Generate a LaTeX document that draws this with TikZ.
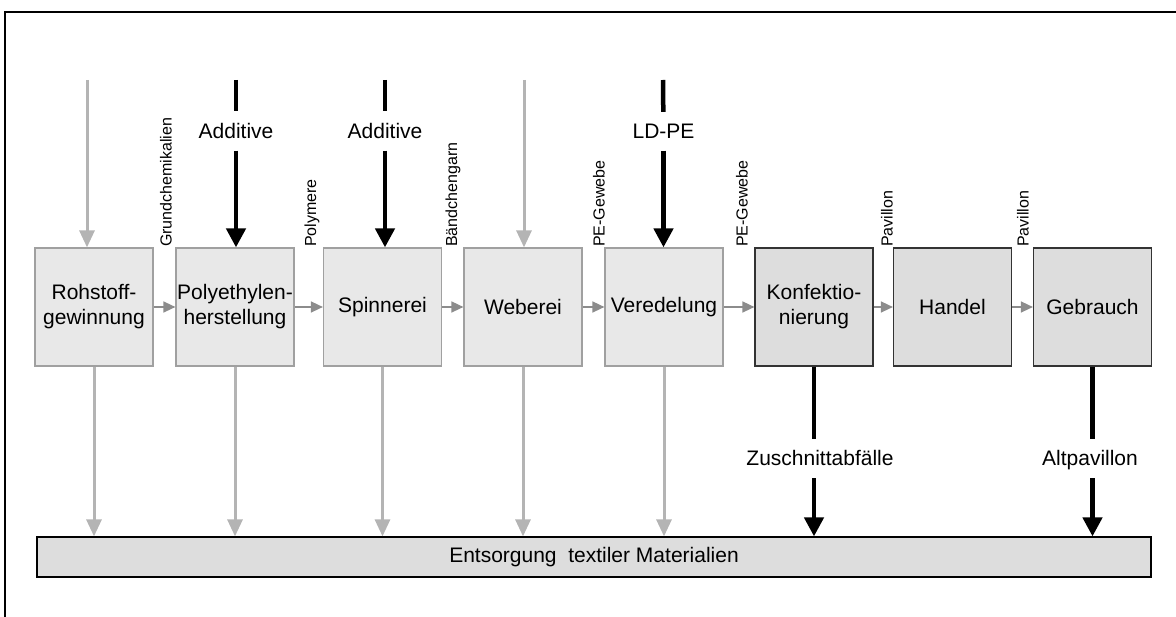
\documentclass[tikz,border=0pt]{standalone}
\usepackage{fontspec}
\setmainfont{Liberation Sans}
\usetikzlibrary{arrows.meta}
\definecolor{boxlight}{HTML}{E8E8E8}
\definecolor{boxdark}{HTML}{DDDDDD}
\definecolor{edgelight}{HTML}{A0A0A0}
\definecolor{edgedark}{HTML}{333333}
\definecolor{inflow}{HTML}{B4B4B4}
\definecolor{chain}{HTML}{8C8C8C}
\begin{document}
\begin{tikzpicture}[x=1pt,y=-1pt,
  stage/.style={minimum width=118pt, minimum height=118pt, inner sep=0pt,
    align=center, font=\fontsize{21}{25}\selectfont, line width=1.2pt},
  lightstage/.style={stage, draw=edgelight, fill=boxlight},
  darkstage/.style={stage, draw=edgedark, fill=boxdark},
  flowlabel/.style={rotate=90, anchor=west, inner sep=0pt,
    font=\fontsize{16}{19}\selectfont},
  sidelabel/.style={anchor=base, inner xsep=2pt, inner ysep=12pt,
    text depth=0pt, font=\fontsize{21}{25}\selectfont},
  chainarrow/.style={draw=chain, line width=1.5pt,
    -{Triangle[length=12pt,width=11pt]}},
  grayarrow/.style={draw=inflow, line width=3pt,
    -{Triangle[length=17pt,width=15pt]}},
  blackline/.style={draw=black, line width=4.5pt},
  blackarrow/.style={blackline, -{Triangle[length=19pt,width=19pt]}},
]
\useasboundingbox (0,0) rectangle (1176,617);

% frame
\draw[line width=1.6pt] (5,617) -- (5,12) -- (1176,12);

% process chain
\node[lightstage] (rohstoff) at (94,307)    {Rohstoff-\\gewinnung};
\node[lightstage] (poly)     at (235,307)   {Polyethylen-\\herstellung};
\node[lightstage] (spinn)    at (382.5,307) {Spinnerei};
\node[lightstage] (weben)    at (523,307)   {Weberei};
\node[lightstage] (veredel)  at (664,307)   {Veredelung};
\node[darkstage]  (konf)     at (814,307)   {Konfektio-\\nierung};
\node[darkstage]  (handel)   at (952.5,307) {Handel};
\node[darkstage]  (gebrauch) at (1092.5,307){Gebrauch};

% disposal
\node[draw=black, fill=boxdark, line width=1.2pt, minimum width=1114pt,
  minimum height=40pt, inner sep=0pt, font=\fontsize{21}{25}\selectfont]
  (entsorgung) at (594,557) {Entsorgung\ \ textiler Materialien};

% material flow between stages
\draw[chainarrow] (rohstoff.east) -- (poly.west);
\draw[chainarrow] (poly.east)     -- (spinn.west);
\draw[chainarrow] (spinn.east)    -- (weben.west);
\draw[chainarrow] (weben.east)    -- (veredel.west);
\draw[chainarrow] (veredel.east)  -- (konf.west);
\draw[chainarrow] (konf.east)     -- (handel.west);
\draw[chainarrow] (handel.east)   -- (gebrauch.west);

% flow labels
\node[flowlabel] (lgrund) at (166,247)  {Grundchemikalien};
\node[flowlabel] (lpoly)  at (312,247)  {Polymere};
\node[flowlabel] (lband)  at (453,247)  {Bändchengarn};
\node[flowlabel] (lgew1)  at (599,247)  {PE-Gewebe};
\node[flowlabel] (lgew2)  at (742,247)  {PE-Gewebe};
\node[flowlabel] (lpav1)  at (887,247)  {Pavillon};
\node[flowlabel] (lpav2)  at (1023,247) {Pavillon};

% inputs from above
\coordinate (inR) at (87,80);
\coordinate (inP) at (236,80);
\coordinate (inS) at (385,80);
\coordinate (inW) at (524,80);
\coordinate (inV) at (663,80);
\draw[grayarrow] (inR) -- (inR |- rohstoff.north);
\draw[grayarrow] (inW) -- (inW |- weben.north);

\node[sidelabel] (addP) at (236,138.5) {Additive};
\node[sidelabel] (addS) at (385,138.5) {Additive};
\node[sidelabel] (ldpe) at (663.5,138.5) {LD-PE};
\draw[blackline]  (inP) -- (addP);
\draw[blackarrow] (addP) -- (addP |- poly.north);
\draw[blackline]  (inS) -- (addS);
\draw[blackarrow] (addS) -- (addS |- spinn.north);
\draw[blackline]  (inV) -- (ldpe);
\draw[blackarrow] (ldpe) -- (ldpe |- veredel.north);

% outputs to disposal
\draw[grayarrow] (rohstoff.south) -- (rohstoff.south |- entsorgung.north);
\draw[grayarrow] (poly.south)     -- (poly.south |- entsorgung.north);
\draw[grayarrow] (spinn.south)    -- (spinn.south |- entsorgung.north);
\draw[grayarrow] (weben.south)    -- (weben.south |- entsorgung.north);
\draw[grayarrow] (veredel.south)  -- (veredel.south |- entsorgung.north);

\node[sidelabel] (zuschnitt) at (820,466) {Zuschnittabfälle};
\node[sidelabel] (altpav)    at (1090,466) {Altpavillon};
\draw[blackline]  (konf.south) -- (konf.south |- zuschnitt.north);
\draw[blackarrow] (konf.south |- zuschnitt.south) -- (konf.south |- entsorgung.north);
\draw[blackline]  (gebrauch.south) -- (gebrauch.south |- altpav.north);
\draw[blackarrow] (gebrauch.south |- altpav.south) -- (gebrauch.south |- entsorgung.north);
\end{tikzpicture}
\end{document}
